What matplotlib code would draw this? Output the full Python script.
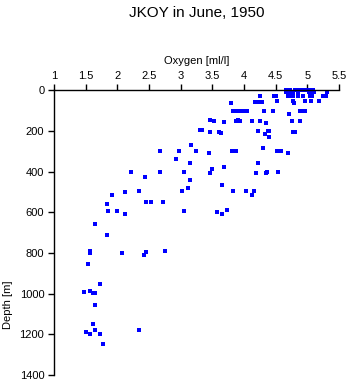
import matplotlib
matplotlib.use("Agg")
import matplotlib.pyplot as plt

plt.rcParams['font.family'] = ['Liberation Sans', 'DejaVu Sans']

oxygen = [
    4.66, 4.68, 4.72, 4.80, 4.83, 4.89, 4.94, 5.01, 5.06, 5.09,
    4.67, 4.71, 4.77, 4.85, 5.03, 5.06, 5.10, 5.31,
    4.25, 4.48, 4.51, 4.69, 4.73, 4.77, 4.85, 4.93, 5.04, 5.08, 5.25, 5.29,
    4.52, 4.77, 4.97, 5.05, 5.18,
    4.18, 4.23, 4.29,
    3.79, 4.79,
    3.82, 3.86, 3.92, 3.98, 4.04, 4.31, 4.46, 4.88, 4.93, 4.97,
    4.71,
    3.47, 3.52, 3.68, 3.87, 3.90, 3.93, 4.12, 4.25, 4.34, 4.76, 4.88,
    3.31, 3.33, 3.47, 3.60, 3.64, 4.22, 4.38, 4.77, 4.80,
    4.33, 4.39, 4.39, 3.16, 4.30,
    2.67, 2.97, 3.24, 3.81, 3.87, 4.52, 4.58, 4.69,
    3.45, 2.92, 3.15, 4.22, 3.68, 3.49,
    2.21, 2.67, 3.05, 4.36, 4.53,
    3.46, 4.19, 4.35,
    2.43, 3.14, 3.65, 3.11,
    2.34, 3.02, 3.82, 4.03, 4.16,
    2.12, 1.91, 4.12,
    2.53, 2.46, 2.72, 1.84, 3.73,
    1.86, 2.00, 3.05, 3.57, 2.12, 3.65, 1.64,
    1.84, 1.575, 1.575, 2.08, 2.42, 2.46, 2.76, 1.53, 1.72,
    1.47, 1.575, 1.61, 1.64, 1.65,
    1.61, 1.51, 1.65, 1.575, 1.72, 2.34, 1.77,
]
depth = [
    0, 0, 0, 0, 0, 0, 0, 0, 0, 0,
    8, 8, 8, 8, 8, 8, 8, 8,
    26, 26, 26, 26, 26, 26, 26, 26, 26, 26, 26, 26,
    52, 52, 52, 52, 52,
    56, 56, 56,
    64, 64,
    102, 102, 102, 102, 102, 102, 102, 102, 102, 102,
    116,
    145, 152, 157, 152, 148, 152, 152, 152, 162, 152, 152,
    195, 195, 207, 206, 212, 202, 200, 206, 204,
    215, 200, 231, 270, 285,
    300, 300, 300, 300, 300, 300, 300, 308,
    310, 338, 356, 356, 375, 387,
    400, 400, 400, 403, 400,
    408, 408, 408,
    428, 441, 467, 482,
    497, 497, 497, 497, 497,
    502, 515, 515,
    551, 551, 551, 561, 589,
    595, 595, 595, 600, 610, 610, 657,
    712, 789, 798, 798, 808, 794, 789, 854, 953,
    992, 989, 997, 997, 1054,
    1148, 1187, 1177, 1197, 1197, 1177, 1246,
]

xticks = [1, 1.5, 2, 2.5, 3, 3.5, 4, 4.5, 5, 5.5]
xticklabels = ['1', '1.5', '2', '2.5', '3', '3.5', '4', '4.5', '5', '5.5']
yticks = [0, 200, 400, 600, 800, 1000, 1200, 1400]

fig = plt.figure(figsize=(3.5, 3.84), dpi=100)
ax = fig.add_axes([54/350, 1-375/384, (339-54)/350, (375-90.3)/384])

ax.plot(oxygen, depth, 's', color='#0000ff', ms=2.3, mew=0, clip_on=False)

ax.set_xlim(1, 5.5)
ax.set_ylim(1400, 0)
ax.xaxis.tick_top()
ax.xaxis.set_label_position('top')
ax.set_xticks(xticks)
ax.set_xticklabels(xticklabels)
ax.set_yticks(yticks)
for s in ['right', 'bottom']:
    ax.spines[s].set_visible(False)
for s in ['left', 'top']:
    ax.spines[s].set_linewidth(1.0)
ax.tick_params(axis='both', direction='out', length=4, width=1, labelsize=8, pad=3)

ax.set_xlabel('Oxygen [ml/l]', fontsize=8)
ax.xaxis.set_label_coords(0.5, (375-61)/284.7)
ax.xaxis.label.set_va('center')
ax.set_ylabel('Depth [m]', fontsize=8)
ax.yaxis.set_label_coords(-0.16, 0.246)
ax.yaxis.label.set_va('center')

fig.text(196.5/350, 1-13/384, 'JKOY in June, 1950', ha='center', va='center', fontsize=11)

fig.savefig('out.png', dpi=100)
